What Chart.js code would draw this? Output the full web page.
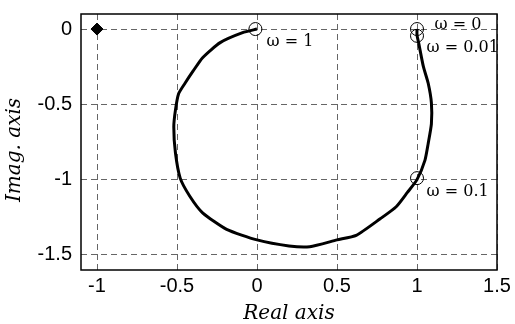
<!DOCTYPE html>
<html>
<head>
<meta charset="utf-8">
<script src="https://cdn.jsdelivr.net/npm/chart.js@4"></script>
<style>
  html, body { margin: 0; padding: 0; background: #fff; }
  .chart { width: 515px; height: 324px; }
</style>
</head>
<body>
<div class="chart"><canvas></canvas></div>
<script>
// nyquist curve
let realPts = [1, 1, 1.01, 1.04, 1.07, 1.09, 1.09, 1.07, 1.05, 1.0, 0.94, 0.87, 0.77, 0.62, 0.5, 0.33, 0.2, 0, -0.19, -0.34, -0.42, -0.48, -0.51, -0.52, -0.51, -0.49, -0.45, -0.40, -0.34, -0.23, -0.09, 0];
let imagPts = [0, -0.04, -0.09, -0.25, -0.36, -0.49, -0.63, -0.76, -0.87, -1.0, -1.085, -1.18, -1.26, -1.37, -1.40, -1.445, -1.44, -1.40, -1.33, -1.22, -1.11, -0.99, -0.82, -0.65, -0.54, -0.43, -0.36, -0.28, -0.19, -0.09, -0.024, 0];

// frequency markers
let markRe = [1, 1, 1, -0.01];
let markIm = [0, -0.045, -0.99, 0];
let markText = ["ω = 0", "ω = 0.01", "ω = 0.1", "ω = 1"];
let textRe = [1.11, 1.06, 1.06, 0.06];
let textIm = [0.025, -0.125, -1.08, -0.085];

// critical point
let critRe = [-1];
let critIm = [0];

let xTicks = [-1, -0.5, 0, 0.5, 1, 1.5];
let yTicks = [0, -0.5, -1, -1.5];

const toPoints = (xs, ys) => xs.map((x, i) => ({ x: x, y: ys[i] }));

const framePlugin = {
    id: "frame",
    afterDraw: (chart) => {
        let ctx = chart.ctx;
        let a = chart.chartArea;
        let xs = chart.scales.x;
        let ys = chart.scales.y;
        ctx.save();
        ctx.strokeStyle = "#000";
        ctx.lineWidth = 1.5;
        ctx.setLineDash([]);
        ctx.strokeRect(a.left, a.top, a.right - a.left, a.bottom - a.top);

        // omega labels
        ctx.fillStyle = "#000";
        ctx.font = "16px 'DejaVu Serif'";
        ctx.textAlign = "left";
        ctx.textBaseline = "middle";
        markText.forEach((t, i) => {
            ctx.fillText(t, xs.getPixelForValue(textRe[i]), ys.getPixelForValue(textIm[i]));
        });

        // axis titles
        ctx.font = "italic 20px 'DejaVu Serif'";
        ctx.textAlign = "center";
        ctx.fillText("Real axis", (a.left + a.right) / 2, 314);
        ctx.translate(15, (a.top + a.bottom) / 2 + 8);
        ctx.rotate(-Math.PI / 2);
        ctx.fillText("Imag. axis", 0, 0);
        ctx.restore();
    }
};

const drawChart = () => {
    let chx = document.querySelector(".chart canvas");
    new Chart(chx, {
        type: "scatter",
        data: {
            datasets: [
                {
                    data: toPoints(realPts, imagPts),
                    showLine: true,
                    borderColor: "#000",
                    borderWidth: 3,
                    pointRadius: 0,
                    tension: 0.2,
                    fill: false
                },
                {
                    data: toPoints(markRe, markIm),
                    pointStyle: "circle",
                    pointRadius: 6.5,
                    borderColor: "#000",
                    borderWidth: 1,
                    backgroundColor: "transparent"
                },
                {
                    data: toPoints(critRe, critIm),
                    pointStyle: "rectRot",
                    pointRadius: 6,
                    borderColor: "#000",
                    backgroundColor: "#000"
                }
            ]
        },
        options: {
            responsive: true,
            maintainAspectRatio: false,
            animation: false,
            layout: { padding: { top: 14, right: 18, left: 0, bottom: 0 } },
            plugins: {
                legend: { display: false },
                tooltip: { enabled: false }
            },
            scales: {
                x: {
                    type: "linear",
                    min: -1.1,
                    max: 1.5,
                    afterBuildTicks: (s) => { s.ticks = xTicks.map(v => ({ value: v })); },
                    afterFit: (s) => { s.height = 54; s.paddingLeft = 0; s.paddingRight = 0; },
                    grid: { color: "#666", lineWidth: 1, drawTicks: false },
                    border: { display: false, dash: [6, 4] },
                    ticks: {
                        color: "#000",
                        padding: 4,
                        maxRotation: 0,
                        font: { family: "'Liberation Sans'", size: 20 },
                        callback: (v) => String(v)
                    }
                },
                y: {
                    type: "linear",
                    min: -1.6,
                    max: 0.1,
                    afterBuildTicks: (s) => { s.ticks = yTicks.map(v => ({ value: v })); },
                    afterFit: (s) => { s.width = 81; s.paddingTop = 0; s.paddingBottom = 0; },
                    grid: { color: "#666", lineWidth: 1, drawTicks: false },
                    border: { display: false, dash: [6, 4] },
                    ticks: {
                        color: "#000",
                        padding: 9,
                        font: { family: "'Liberation Sans'", size: 20 },
                        callback: (v) => String(v)
                    }
                }
            }
        },
        plugins: [framePlugin]
    });
};

document.addEventListener("DOMContentLoaded", (event) => {
    drawChart();
});
</script>
</body>
</html>
